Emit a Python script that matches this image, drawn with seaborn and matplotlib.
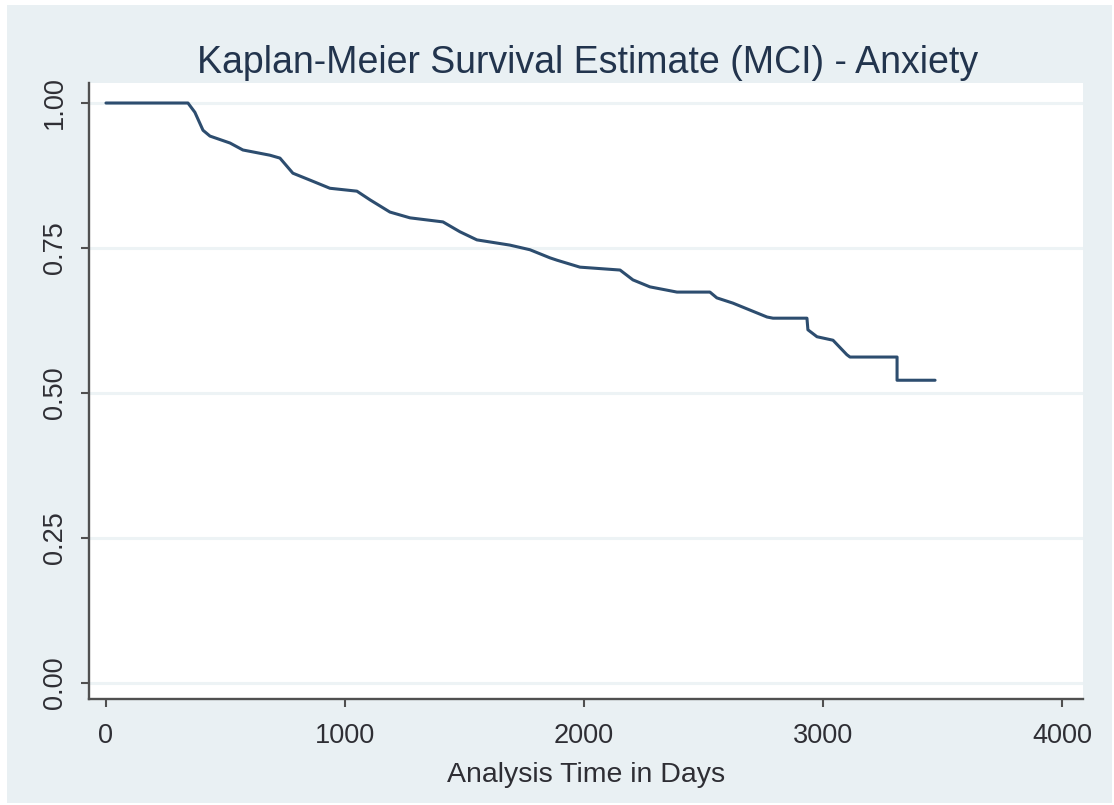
import matplotlib
matplotlib.use("Agg")
import matplotlib.pyplot as plt
import seaborn as sns
import pandas as pd
from matplotlib.patches import Rectangle

# ---- data ----
time_days = [0, 343, 372, 406, 435, 519, 573, 686, 728, 782, 854, 937, 1050, 1105,
             1188, 1272, 1410, 1481, 1552, 1690, 1774, 1858, 1887, 1983, 2151, 2205,
             2276, 2389, 2527, 2556, 2623, 2766, 2791, 2933, 2937, 2975, 3042, 3100,
             3113, 3310, 3310, 3469]
survival = [1.000, 1.000, 0.984, 0.953, 0.943, 0.931, 0.919, 0.910, 0.905, 0.879,
            0.867, 0.853, 0.848, 0.833, 0.812, 0.802, 0.795, 0.778, 0.764, 0.755,
            0.747, 0.733, 0.729, 0.717, 0.712, 0.695, 0.683, 0.674, 0.674, 0.664,
            0.655, 0.631, 0.629, 0.629, 0.609, 0.597, 0.591, 0.566, 0.562, 0.562,
            0.522, 0.522]
title = "Kaplan-Meier Survival Estimate (MCI) - Anxiety"
x_label = "Analysis Time in Days"
x_ticks = [0, 1000, 2000, 3000, 4000]
y_ticks = [0.0, 0.25, 0.5, 0.75, 1.0]
y_tick_labels = ["0.00", "0.25", "0.50", "0.75", "1.00"]

sns.set_theme(style="white")
plt.rcParams['font.family'] = ['Liberation Sans', 'DejaVu Sans']

W, H = 1114, 805
fig = plt.figure(figsize=(W / 100, H / 100), dpi=100, facecolor='white')
fig.patches.append(Rectangle((7 / W, 2 / H), 1105 / W, 798 / H,
                             transform=fig.transFigure, facecolor='#e9f0f3',
                             edgecolor='none', zorder=-5))

ax = fig.add_axes([89 / W, (H - 699) / H, (1083 - 89) / W, (699 - 83) / H])
ax.set_zorder(1)
ax.set_facecolor('white')

df = pd.DataFrame({'time': time_days, 'surv': survival})
sns.lineplot(data=df, x='time', y='surv', sort=False, estimator=None,
             color='#2d4d6f', linewidth=2.2, ax=ax)

ax.set_xlim(-71, 4088)
ax.set_ylim(-0.0276, 1.0345)
ax.set_xticks(x_ticks)
ax.set_xticklabels([str(t) for t in x_ticks])
ax.set_yticks(y_ticks)
ax.set_yticklabels(y_tick_labels, rotation=90, va='center', ha='right')

ax.yaxis.grid(True, color='#edf3f5', linewidth=2.2)
ax.xaxis.grid(False)
ax.set_axisbelow(True)

for s in ['top', 'right']:
    ax.spines[s].set_visible(False)
for s in ['left', 'bottom']:
    ax.spines[s].set_color('#505050')
    ax.spines[s].set_linewidth(1.7)

ax.tick_params(axis='both', which='major', bottom=True, left=True,
               direction='out', length=6, width=1.5, color='#505050',
               labelsize=19.5, labelcolor='#2e2e34')
ax.tick_params(axis='x', pad=11)
ax.tick_params(axis='y', pad=9)

ax.set_ylabel('')
ax.set_xlabel(x_label, fontsize=20.5, color='#2e2e34')
ax.xaxis.set_label_coords(0.5, -0.102)

fig.text(588 / W, (H - 73) / H, title, ha='center', va='baseline',
         fontsize=27, color='#22344d')

fig.savefig('out.png', dpi=100, facecolor=fig.get_facecolor())
